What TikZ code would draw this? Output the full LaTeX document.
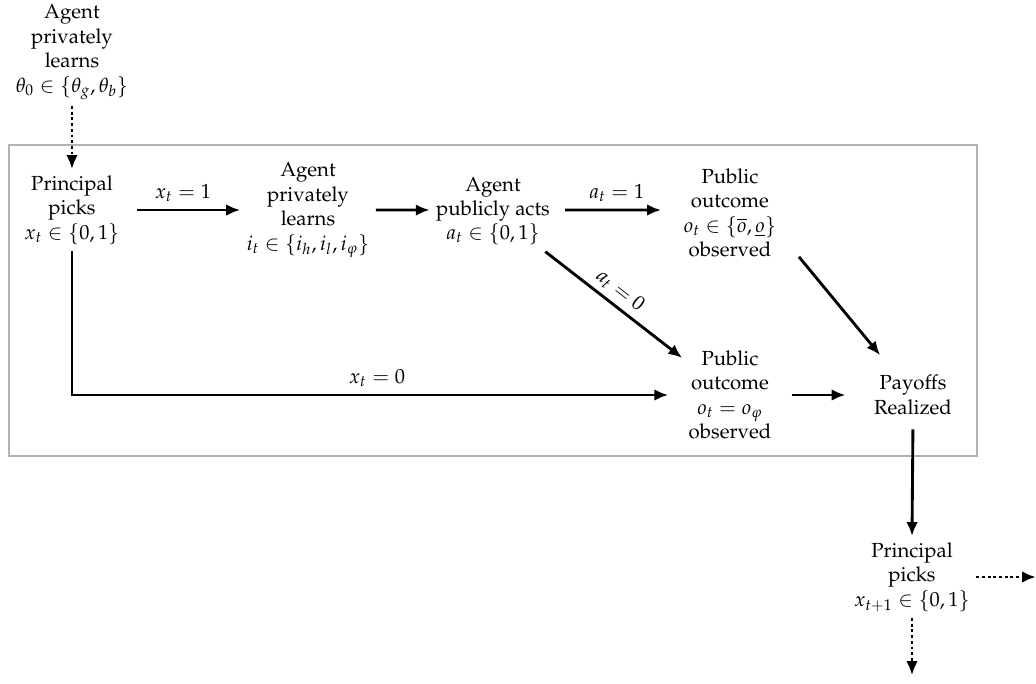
\documentclass[tikz,border=0pt]{standalone}
\usepackage[T1]{fontenc}
\usepackage{mathpazo}
\usepackage{amsmath}
\usetikzlibrary{arrows.meta,positioning}

\begin{document}
\begin{tikzpicture}[
    stage/.style={
        align=center,
        inner sep=3pt
    },
    arrow/.style={
        -{Latex[length=2.4mm, width=2mm]},
        line width=1.4pt
    },
    dotarrow/.style={
        arrow,
        dash pattern=on 1.4pt off 1.4pt
    }
]
    \useasboundingbox (0,0) rectangle (17.862,-11.776);

    % Period frame
    \draw[gray!60, line width=0.6pt] (0.155,-2.5) rectangle (16.845,-7.862);

    % Before the first period
    \node[stage] (theta) at (1.241,-0.897) {Agent\\privately\\learns\\$\theta_0 \in \{\theta_g, \theta_b\}$};

    % Period t
    \node[stage] (pick) at (1.241,-3.621) {Principal\\picks\\$x_t \in \{0,1\}$};
    \node[stage] (learn) at (5.310,-3.621) {Agent\\privately\\learns\\$i_t \in \{i_h, i_l, i_\varphi\}$};
    \node[stage] (act) at (8.500,-3.638) {Agent\\publicly acts\\$a_t \in \{0,1\}$};
    \node[stage] (outA) at (12.586,-3.672) {Public\\outcome\\$o_t \in \{\overline{o}, \underline{o}\}$\\observed};
    \node[stage] (outB) at (12.586,-6.810) {Public\\outcome\\$o_t = o_\varphi$\\observed};
    \node[stage] (pay) at (15.741,-6.810) {Payoffs\\Realized};

    % Next period
    \node[stage] (next) at (15.724,-9.948) {Principal\\picks\\$x_{t+1} \in \{0,1\}$};
    \coordinate (nextR) at (17.862,-9.948);
    \coordinate (nextD) at (15.724,-11.64);

    % Arrows
    \draw[dotarrow] (theta) -- (pick);
    \draw[arrow, shorten <=0.2cm] (pick.east) -- node[above] {$x_t = 1$} (learn.west);
    \draw[arrow] (learn.east) -- ([yshift=0.017cm]act.west);
    \draw[arrow, shorten <=0.15cm, shorten >=0.28cm] ([yshift=0.017cm]act.east) -- node[above] {$a_t = 1$} ([yshift=0.051cm]outA.west);
    \draw[arrow] (act) -- node[sloped, above=-1pt, pos=0.48] {$a_t = 0$} (outB);
    \draw[arrow, shorten >=0.3cm] ([shift={(0.28,0.12)}]outA.south east) -- (pay);
    \draw[arrow, shorten >=0.24cm] (pick.south) |- node[above, pos=0.75] {$x_t = 0$} (outB.west);
    \draw[arrow, shorten <=0.24cm, shorten >=0.38cm] (outB.east) -- (pay.west);
    \draw[arrow, shorten <=0.14cm] (pay.south) -- (next.north);
    \draw[dotarrow] (next.east) -- (nextR);
    \draw[dotarrow] (next.south) -- (nextD);
\end{tikzpicture}
\end{document}
